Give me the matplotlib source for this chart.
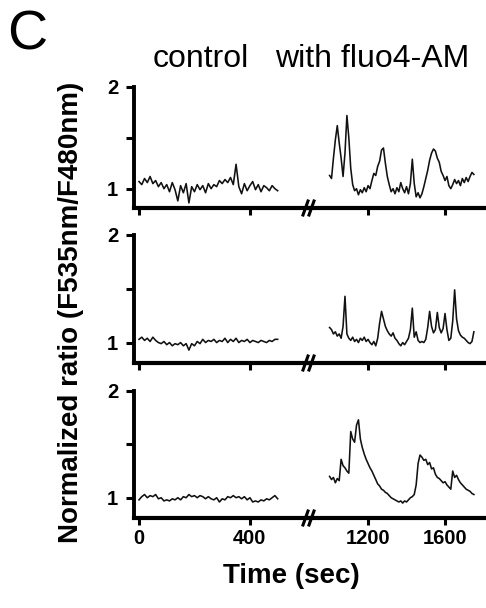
import numpy as np
import matplotlib
matplotlib.use("Agg")
import matplotlib.pyplot as plt

plt.rcParams['font.family'] = ['Liberation Sans', 'DejaVu Sans']

# time grids (sec)
t_ctrl = np.arange(0, 501, 10)
t_fluo = np.arange(1000, 1751, 10)

# normalized ratio traces
ctrl1 = [1.07, 1.04, 1.10, 1.06, 1.12, 1.05, 1.08, 1.02, 1.06, 1.00,
         1.04, 0.97, 1.06, 0.99, 0.88, 1.03, 0.96, 1.05, 0.86, 1.02,
         0.97, 1.04, 0.99, 1.03, 0.96, 1.05, 1.00, 1.04, 1.02, 1.08,
         1.05, 1.09, 1.06, 1.11, 1.04, 1.24, 1.02, 0.95, 1.05, 0.98,
         1.03, 1.07, 0.99, 1.04, 0.97, 1.03, 1.01, 0.98, 1.03, 1.00, 0.98]
fluo1 = [1.13, 1.10, 1.30, 1.48, 1.62, 1.45, 1.30, 1.12, 1.35, 1.72,
         1.50, 1.20, 1.04, 0.98, 1.00, 0.94, 0.99, 0.96, 1.01, 0.97,
         1.03, 1.00, 1.08, 1.15, 1.13, 1.22, 1.27, 1.38, 1.40, 1.25,
         1.12, 1.04, 0.97, 1.00, 0.95, 1.01, 0.97, 1.06, 1.00, 0.96,
         1.02, 0.95, 1.05, 1.29, 1.05, 0.92, 0.96, 0.91, 0.95, 1.02,
         1.10, 1.18, 1.28, 1.35, 1.39, 1.37, 1.30, 1.26, 1.17, 1.13,
         1.08, 1.12, 1.03, 1.00, 1.04, 1.09, 1.05, 1.08, 1.03, 1.10,
         1.06, 1.11, 1.07, 1.12, 1.16, 1.14]

ctrl2 = [1.03, 1.05, 1.02, 1.04, 1.01, 1.05, 1.02, 1.00, 0.99, 1.01,
         0.98, 1.00, 0.97, 0.99, 0.98, 1.00, 0.97, 0.99, 0.93, 0.99,
         0.97, 1.01, 0.99, 1.03, 1.00, 1.02, 1.01, 1.03, 1.00, 1.02,
         1.01, 1.04, 1.00, 1.03, 1.01, 1.04, 1.00, 1.02, 1.01, 1.03,
         1.00, 1.02, 1.01, 1.00, 1.02, 1.01, 1.00, 1.02, 1.01, 1.03, 1.03]
fluo2 = [1.14, 1.12, 1.08, 1.10, 1.06, 1.08, 1.04, 1.15, 1.43, 1.08,
         1.04, 1.02, 1.05, 1.01, 1.03, 1.00, 1.04, 1.02, 1.05, 1.01,
         1.03, 1.00, 0.98, 1.01, 0.97, 1.04, 1.18, 1.29, 1.22, 1.15,
         1.11, 1.08, 1.06, 1.09, 1.04, 1.02, 0.99, 0.97, 1.00, 0.98,
         1.01, 1.04, 1.12, 1.32, 1.05, 1.10, 1.02, 1.00, 1.01, 1.00,
         1.03, 1.14, 1.29, 1.15, 1.09, 1.12, 1.28, 1.14, 1.09, 1.13,
         1.27, 1.12, 1.02, 1.04, 1.20, 1.49, 1.22, 1.11, 1.07, 1.05,
         1.04, 1.02, 1.00, 0.99, 1.01, 1.10]

ctrl3 = [0.98, 1.01, 1.03, 1.00, 1.02, 1.01, 1.03, 0.99, 1.00, 0.97,
         0.98, 0.97, 0.99, 0.98, 1.00, 0.98, 1.01, 1.00, 1.03, 1.01,
         1.02, 1.00, 1.02, 1.01, 0.99, 1.01, 0.99, 0.98, 1.00, 0.96,
         0.99, 0.98, 1.01, 1.00, 1.02, 1.00, 1.01, 0.99, 1.01, 0.98,
         1.00, 0.96, 0.97, 0.96, 0.98, 0.97, 0.99, 0.98, 1.00, 1.02, 0.99]
fluo3 = [1.20, 1.17, 1.19, 1.14, 1.18, 1.16, 1.36, 1.30, 1.28, 1.25,
         1.23, 1.62, 1.55, 1.52, 1.68, 1.73, 1.55, 1.47, 1.41, 1.36,
         1.32, 1.28, 1.25, 1.21, 1.17, 1.13, 1.11, 1.08, 1.07, 1.05,
         1.04, 1.02, 1.00, 0.99, 0.98, 0.97, 0.96, 0.97, 0.95, 0.97,
         0.96, 0.98, 1.00, 1.01, 1.03, 1.12, 1.32, 1.40, 1.38, 1.35,
         1.36, 1.31, 1.33, 1.27, 1.28, 1.22, 1.19, 1.18, 1.16, 1.14,
         1.15, 1.12, 1.10, 1.08, 1.25, 1.19, 1.21, 1.17, 1.14, 1.12,
         1.10, 1.08, 1.07, 1.06, 1.04, 1.03]

controls = [ctrl1, ctrl2, ctrl3]
fluos = [fluo1, fluo2, fluo3]

W, H = 486, 608
fig = plt.figure(figsize=(W / 100, H / 100), dpi=100)

# (top px, bottom px) of each row's plotting box
rows = [(87, 208), (235, 363), (391, 518)]
x_left, x_break, x_right = 134, 309, 486

trace_kw = dict(color='#111111', lw=1.15)
tick_font = dict(fontsize=14.5, fontweight='bold')

for i, (top, bot) in enumerate(rows):
    b = 1 - bot / H
    h = (bot - top) / H
    axl = fig.add_axes([x_left / W, b, (x_break - x_left) / W, h])
    axr = fig.add_axes([x_break / W, b, (x_right - x_break) / W, h])

    axl.plot(t_ctrl, controls[i], **trace_kw)
    axr.plot(t_fluo, fluos[i], **trace_kw)

    axl.set_xlim(-18, 613)
    axr.set_xlim(893, 1813)
    for ax in (axl, axr):
        ax.set_ylim(0.81, 2.0)
        ax.spines['top'].set_visible(False)
        ax.spines['right'].set_visible(False)
        ax.spines['bottom'].set_linewidth(3.0)
        ax.spines['left'].set_linewidth(2.8)
        ax.tick_params(axis='x', direction='out', length=5, width=2.2, pad=3)
        ax.tick_params(axis='y', direction='out', length=5.5, width=2.2, pad=6)
        ax.patch.set_alpha(0)
    axr.spines['left'].set_visible(False)
    axr.set_yticks([])

    axl.set_yticks([1, 1.5, 2])
    axl.set_yticklabels(['1', '', '2'], **tick_font)
    axl.set_xticks([0, 400])
    axr.set_xticks([1200, 1600])
    if i == len(rows) - 1:
        axl.set_xticklabels(['0', '400'], **tick_font)
        axr.set_xticklabels(['1200', '1600'], **tick_font)
    else:
        axl.set_xticklabels([])
        axr.set_xticklabels([])

    # axis break marks "//"
    sx = 1.0 / (x_right - x_break)
    sy = 1.0 / (bot - top)
    for cx in (-3.5, 2.5):
        axr.plot([(cx - 2.5) * sx, (cx + 2.5) * sx], [-7 * sy, 7 * sy],
                 transform=axr.transAxes, color='k', lw=2.2, clip_on=False)

fig.text(7 / W, 1 - 50 / H, 'C', fontsize=40, va='baseline', ha='left')
fig.text(201 / W, 1 - 67 / H, 'control', fontsize=23, ha='center', va='baseline')
fig.text(372 / W, 1 - 67 / H, 'with fluo4-AM', fontsize=23, ha='center', va='baseline')
fig.text(71 / W, 1 - 312 / H, 'Normalized ratio (F535nm/F480nm)', rotation=90,
         fontsize=20, fontweight='bold', ha='center', va='center')
fig.text(291 / W, 1 - 583 / H, 'Time (sec)', fontsize=20, fontweight='bold',
         ha='center', va='baseline')

fig.savefig('out.png', dpi=100)
